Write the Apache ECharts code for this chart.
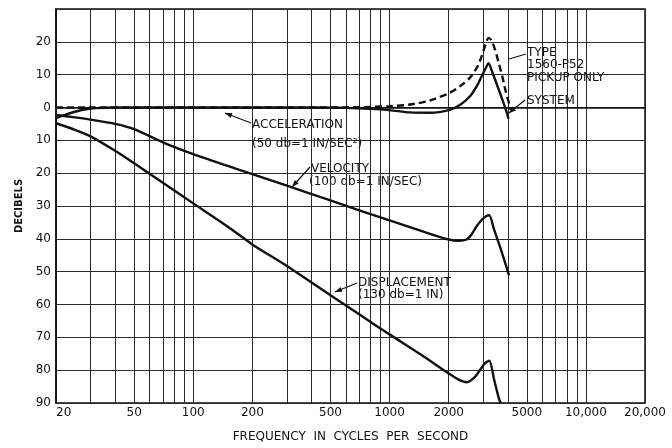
<!DOCTYPE html>
<html><head><meta charset="utf-8">
<script src="https://cdn.jsdelivr.net/npm/echarts@6/dist/echarts.min.js"></script>
<style>html,body{margin:0;padding:0;background:#fff}#c{width:672px;height:448px}</style>
</head><body><div id="c"></div>
<script>
// ---- data ----
const gridFreqs = [20,30,40,50,60,70,80,90,100,200,300,400,500,600,700,800,900,1000,2000,3000,4000,5000,6000,7000,8000,9000,10000,20000];
const labelFreqs = [20,50,100,200,500,1000,2000,5000,10000,20000];
const labelTexts = ['20','50','100','200','500','1000','2000','5000','10,000','20,000'];

const accelFreq   = [20,22,25,28,32,40,60,100,200,400,600,800,1000,1270,1600,2030,2300,2570,2800,2950,3100,3190,3350,3520,3750,3950,4030];
const accelSystem = [-3.2,-2.3,-1.3,-0.6,-0.2,0,0,0,0,0,-0.1,-0.4,-0.8,-1.5,-1.6,-0.7,0.9,3.4,6.8,9.6,12.2,13.5,10.5,7,2.5,-1.5,-3.4];

const pickupFreq = [20,100,400,700,1000,1270,1600,2030,2300,2570,2800,2950,3080,3190,3300,3450,3600,3750,3900,4050,4150];
const pickupOnly = [0,0,0,0.1,0.4,0.9,2.1,4.5,6.6,9.1,12.4,15.7,19.2,21.2,20.5,17.5,13.5,9.5,5,1.5,-0.7];

const velFreq  = [20,25,30,40,50,70,100,150,200,300,500,700,1000,1500,2000,2250,2470,2620,2760,2950,3100,3220,3400,3600,3800,4060];
const velocity = [-2.3,-3,-3.7,-5,-6.6,-10.6,-14.2,-17.8,-20.3,-23.8,-28.3,-31.3,-34.4,-37.9,-40.2,-40.6,-40.2,-38.6,-36.4,-34.2,-33.1,-32.8,-37,-41.3,-45.6,-51.1];

const dispFreq     = [20,25,30,40,50,70,100,150,200,300,500,700,1000,1500,2000,2250,2470,2700,2900,3050,3220,3400,3600,3680];
const displacement = [-4.8,-6.8,-8.8,-13.2,-17,-22.9,-29.2,-36.3,-41.7,-48.3,-57.2,-63,-69.1,-75.9,-81,-82.9,-83.7,-82.3,-79.8,-78,-77.1,-82.6,-88.5,-90];

const yTicks = {min:-90, max:30, interval:10};

// ---- chart ----
const FONT = 'DejaVu Sans';
const INK = '#111111';
function pairs(xs, ys){ return xs.map((x,i)=>[x, ys[i]]); }
function curve(name, xs, ys, dashed){
  return {
    name, type:'line', data: pairs(xs, ys), showSymbol:false, symbol:'none',
    smooth:0.25, clip:true, silent:true,
    lineStyle:{color:INK, width:2.4, type: dashed ? [7,4] : 'solid'}
  };
}
function text(x, y, s){
  return {type:'text', x, y, style:{text:s, font:'12px "DejaVu Sans"', fill:INK, textVerticalAlign:'middle', verticalAlign:'middle'}};
}
function arrow(x1, y1, x2, y2, head){
  const els = [{type:'line', shape:{x1,y1,x2,y2}, style:{stroke:INK, lineWidth:1.2}}];
  if (head){
    const a = Math.atan2(y2-y1, x2-x1), L = 7, W = 2.6;
    const bx = x2 - L*Math.cos(a), by = y2 - L*Math.sin(a);
    const px = -Math.sin(a)*W, py = Math.cos(a)*W;
    els.push({type:'polygon', shape:{points:[[x2,y2],[bx+px,by+py],[bx-px,by-py]]}, style:{fill:INK}});
  }
  return els;
}

const chart = echarts.init(document.getElementById('c'));
chart.setOption({
  backgroundColor:'#ffffff',
  animation:false,
  grid:{left:56, right:27, top:9, bottom:45, show:true, borderColor:INK, borderWidth:1.5, backgroundColor:'transparent'},
  xAxis:{
    type:'log', logBase:10, min:20, max:20000,
    name:'FREQUENCY  IN  CYCLES  PER  SECOND', nameLocation:'middle', nameGap:28,
    nameTextStyle:{fontFamily:FONT, fontSize:12, color:INK},
    axisLine:{show:true, lineStyle:{color:INK, width:1.5}},
    axisTick:{show:false, customValues:gridFreqs},
    splitLine:{show:true, lineStyle:{color:'#2a2a2a', width:1}},
    minorSplitLine:{show:false},
    axisLabel:{customValues:labelFreqs, alignMinLabel:'left', margin:4, fontFamily:FONT, fontSize:12, color:INK,
      formatter:(v)=>{ const i = labelFreqs.findIndex(f=>Math.abs(f-v)/f<1e-6); return i>=0 ? labelTexts[i] : ''; }}
  },
  yAxis:{
    type:'value', min:yTicks.min, max:yTicks.max, interval:yTicks.interval,
    name:'DECIBELS', nameLocation:'middle', nameGap:30, nameRotate:90,
    nameTextStyle:{fontFamily:FONT, fontSize:10, fontWeight:'bold', color:INK},
    axisLine:{show:true, lineStyle:{color:INK, width:1.5}},
    axisTick:{show:false},
    splitLine:{show:true, lineStyle:{color:'#2a2a2a', width:1}},
    axisLabel:{margin:5, fontFamily:FONT, fontSize:12, color:INK,
      formatter:(v)=> v === yTicks.max ? '' : String(Math.abs(v))}
  },
  series:[
    curve('Acceleration (system)', accelFreq, accelSystem, false),
    curve('Type 1560-P52 pickup only', pickupFreq, pickupOnly, true),
    curve('Velocity', velFreq, velocity, false),
    curve('Displacement', dispFreq, displacement, false)
  ],
  graphic:[
    text(527, 53, 'TYPE'),
    text(527, 65, '1560-P52'),
    text(527, 78, 'PICKUP ONLY'),
    text(527, 101, 'SYSTEM'),
    text(252, 125, 'ACCELERATION'),
    text(252, 144, '(50 db=1 IN/SEC²)'),
    text(311, 169, 'VELOCITY'),
    text(309, 182, '(100 db=1 IN/SEC)'),
    text(358, 283, 'DISPLACEMENT'),
    text(358, 295, '(130 db=1 IN)'),
    ...arrow(526, 54, 509, 59, false),
    ...arrow(525, 100, 509, 113, true),
    ...arrow(251, 123, 225, 113, true),
    ...arrow(310, 167, 292, 187, true),
    ...arrow(357, 283, 335, 292, true)
  ]
});
</script></body></html>
